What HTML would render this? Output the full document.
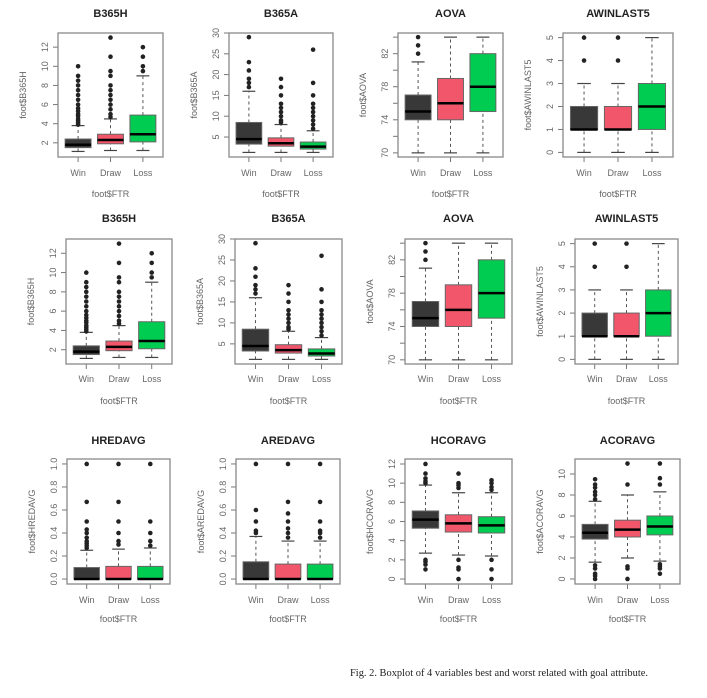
<!DOCTYPE html>
<html><head><meta charset="utf-8"><style>
html,body{margin:0;padding:0;background:#fff;}
svg{display:block;}
text{font-family:"Liberation Sans",sans-serif;}
</style></head><body>
<svg id="chart" width="707" height="698" viewBox="0 0 707 698" xmlns="http://www.w3.org/2000/svg">
<text x="350" y="676" textLength="298" lengthAdjust="spacingAndGlyphs" style="font-family:'Liberation Serif',serif" font-size="11" fill="#222">Fig. 2. Boxplot of 4 variables best and worst related with goal attribute.</text>
</svg>
<script>
const categories = ["Win","Draw","Loss"];
const colors = ["#383838","#f2566b","#00cc52"];
const titles = ["B365H","B365A","AOVA","AWINLAST5","HREDAVG","AREDAVG","HCORAVG","ACORAVG"];
// stats per category: [lowWhisker, q1, median, q3, highWhisker]
const statsB365H = [[1.1,1.5,1.8,2.4,3.8],[1.2,1.9,2.3,2.9,4.5],[1.2,2.1,2.9,4.9,9.0]];
const outB365H = [[3.9,4.1,4.3,4.5,4.8,5,5.3,5.6,6,6.5,7,7.5,8,8.5,9,10],[4.7,5,5.5,6,6.5,7,7.5,8,9,9.5,11,13],[9.5,10,11,12]];
const statsB365A = [[1.3,3.3,4.5,8.5,16],[1.3,2.8,3.5,4.8,8],[1.3,2.1,2.7,3.8,6.5]];
const outB365A = [[17,18,19,21,23,29],[8.5,9,10,11,12,13,15,17,19],[7,8,9,10,11,12,13,15,18,26]];
const statsAOVA = [[70,74,75,77,81],[70,74,76,79,84],[70,75,78,82,84]];
const outAOVA = [[82,83,84],[],[]];
const statsAWIN = [[0,1,1,2,3],[0,1,1,2,3],[0,1,2,3,5]];
const outAWIN = [[4,5],[4,5],[]];
const statsHRED = [[0,0,0,0.1,0.25],[0,0,0,0.11,0.26],[0,0,0,0.11,0.27]];
const outHRED = [[0.27,0.29,0.31,0.33,0.36,0.4,0.43,0.5,0.67,1],[0.3,0.33,0.4,0.5,0.67,1],[0.29,0.33,0.4,0.5,1]];
const statsARED = [[0,0,0,0.15,0.37],[0,0,0,0.13,0.33],[0,0,0,0.13,0.33]];
const outARED = [[0.4,0.42,0.5,0.6,1],[0.36,0.4,0.44,0.5,0.57,0.67,1],[0.36,0.4,0.42,0.5,0.67,1]];
const statsHCOR = [[2.7,5.3,6.2,7.1,9.8],[2.5,4.9,5.8,6.7,9],[2.4,4.8,5.6,6.5,9]];
const outHCOR = [[10,10.2,10.5,11,12,1,1.5,1.8,2],[9.5,9.8,10,11,0,1,1.2,2],[9.3,9.6,10,10.3,0,1,2]];
const statsACOR = [[1.6,3.8,4.4,5.2,7.4],[2,4,4.7,5.6,8],[1.7,4.2,5,6,8.3]];
const outACOR = [[7.6,8,8.3,8.7,9,9.5,0,0.3,0.5,1,1.3],[9,11,0,1,1.2],[9,9.6,11,0.5,1,1.2,1.4]];
const ticksB365H = [2,4,6,8,10,12];
const ticksB365A = [5,10,15,20,25,30];
const ticksAOVA = [70,72,74,76,78,80,82,84];
const labelsAOVA = ["70","","74","","78","","82",""];
const ticksAWIN = [0,1,2,3,4,5];
const ticksRED = [0,0.2,0.4,0.6,0.8,1.0];
const labelsRED = ["0.0","0.2","0.4","0.6","0.8","1.0"];
const ticksHCOR = [0,2,4,6,8,10,12];
const ticksACOR = [0,2,4,6,8,10];

const panels = [
 {t:0,y:"foot$B365H",s:statsB365H,o:outB365H,tk:ticksB365H,lim:[0.52,13.48],f:[58,163,33,157],ty:[13,173,194]},
 {t:1,y:"foot$B365A",s:statsB365A,o:outB365A,tk:ticksB365A,lim:[0.2,30],f:[229,333,33,157],ty:[13,173,194]},
 {t:2,y:"foot$AOVA",s:statsAOVA,o:outAOVA,tk:ticksAOVA,tl:labelsAOVA,lim:[69.5,84.5],f:[398,503,33,157],ty:[13,173,194]},
 {t:3,y:"foot$AWINLAST5",s:statsAWIN,o:outAWIN,tk:ticksAWIN,lim:[-0.2,5.2],f:[563,673,33,157],ty:[13,173,194]},
 {t:0,y:"foot$B365H",s:statsB365H,o:outB365H,tk:ticksB365H,lim:[0.52,13.48],f:[66,172,239,364],ty:[218,379,401]},
 {t:1,y:"foot$B365A",s:statsB365A,o:outB365A,tk:ticksB365A,lim:[0.2,30],f:[235,342,239,364],ty:[218,379,401]},
 {t:2,y:"foot$AOVA",s:statsAOVA,o:outAOVA,tk:ticksAOVA,tl:labelsAOVA,lim:[69.5,84.5],f:[405,512,239,364],ty:[218,379,401]},
 {t:3,y:"foot$AWINLAST5",s:statsAWIN,o:outAWIN,tk:ticksAWIN,lim:[-0.2,5.2],f:[575,678,239,364],ty:[218,379,401]},
 {t:4,y:"foot$HREDAVG",s:statsHRED,o:outHRED,tk:ticksRED,tl:labelsRED,lim:[-0.043,1.043],f:[67,170,459,584],ty:[440,600,619]},
 {t:5,y:"foot$AREDAVG",s:statsARED,o:outARED,tk:ticksRED,tl:labelsRED,lim:[-0.043,1.043],f:[236,340,459,584],ty:[440,600,619]},
 {t:6,y:"foot$HCORAVG",s:statsHCOR,o:outHCOR,tk:ticksHCOR,lim:[-0.52,12.52],f:[405,512,459,584],ty:[440,600,619]},
 {t:7,y:"foot$ACORAVG",s:statsACOR,o:outACOR,tk:ticksACOR,lim:[-0.48,11.43],f:[575,680,459,584],ty:[440,600,619]}
];
const svg = document.getElementById('chart');
const NS = "http://www.w3.org/2000/svg";
function mk(tag, attrs, parent){const e=document.createElementNS(NS,tag);for(const k in attrs)e.setAttribute(k,attrs[k]);(parent||svg).appendChild(e);return e;}

panels.forEach((p,pi)=>{
  const [x0,x1,y0,y1]=p.f;
  const g = mk('g',{});
  
  
  const yS = v => y1 - (v-p.lim[0])/(p.lim[1]-p.lim[0])*(y1-y0);
  const xS = i => x0 + (x1-x0)*((i+1-0.38)/3.24);
  const bw = (x1-x0)/3.24*0.8;
  const cx = (x0+x1)/2;
  const t = mk('text',{x:cx,y:p.ty[0]+4,'text-anchor':'middle','font-size':11,'font-weight':'bold',fill:'#222'},g);
  t.textContent = titles[p.t];
  
  
  p.tk.forEach((v,i)=>{
    const yy=yS(v);
    mk('line',{x1:x0-5,x2:x0,y1:yy,y2:yy,stroke:'#777','stroke-width':1},g);
    const lab = p.tl ? p.tl[i] : String(v);
    if(lab){
      const tt=mk('text',{x:x0-10,y:yy,'text-anchor':'middle','font-size':9,fill:'#666',transform:`rotate(-90 ${x0-10} ${yy})`},g);
      tt.textContent=lab;
      
      
    }
  });
  const yl = mk('text',{x:x0-32,y:(y0+y1)/2,'text-anchor':'middle','font-size':9,fill:'#666',transform:`rotate(-90 ${x0-32} ${(y0+y1)/2})`},g);
  yl.textContent = p.y;
  
  
  const xl = mk('text',{x:cx,y:p.ty[2]+3,'text-anchor':'middle','font-size':9,fill:'#666'},g);
  xl.textContent = 'foot$FTR';
  
  
  categories.forEach((c,i)=>{
    const x=xS(i), s=p.s[i];
    mk('line',{x1:x,x2:x,y1:y1,y2:y1+5,stroke:'#777'},g);
    const cl=mk('text',{x:x,y:p.ty[1]+3,'text-anchor':'middle','font-size':9,fill:'#666'},g);
    cl.textContent=c;
    
    
    const bg = mk('g',{},g);
    
    
    mk('line',{x1:x,x2:x,y1:yS(s[0]),y2:yS(s[1]),stroke:'#555','stroke-dasharray':'3,3'},bg);
    mk('line',{x1:x,x2:x,y1:yS(s[3]),y2:yS(s[4]),stroke:'#555','stroke-dasharray':'3,3'},bg);
    mk('line',{x1:x-bw/4,x2:x+bw/4,y1:yS(s[0]),y2:yS(s[0]),stroke:'#444','stroke-width':1.2},bg);
    mk('line',{x1:x-bw/4,x2:x+bw/4,y1:yS(s[4]),y2:yS(s[4]),stroke:'#444','stroke-width':1.2},bg);
    const h=Math.max(yS(s[1])-yS(s[3]),1);
    mk('rect',{x:x-bw/2,y:yS(s[3]),width:bw,height:h,fill:colors[i],stroke:'#666','stroke-width':1},bg);
    mk('line',{x1:x-bw/2,x2:x+bw/2,y1:yS(s[2]),y2:yS(s[2]),stroke:'#000','stroke-width':2.5},bg);
    p.o[i].forEach(v=>{
      const d=mk('circle',{cx:x,cy:yS(v),r:2.3,fill:'#222'},bg);
      
      
    });
  });
  mk('rect',{x:x0,y:y0,width:x1-x0,height:y1-y0,fill:'none',stroke:'#888','stroke-width':1.3},g);
});
</script>
</body></html>
